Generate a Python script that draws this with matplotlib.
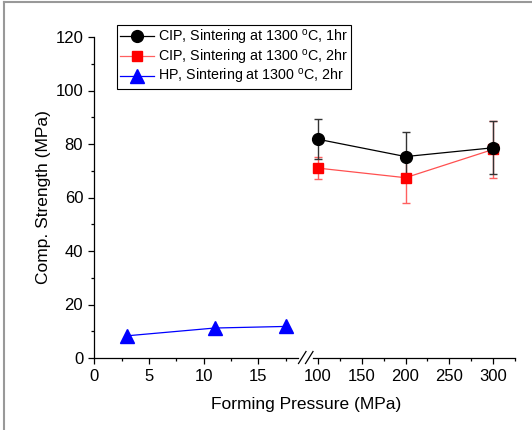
import matplotlib
matplotlib.use("Agg")
import matplotlib.pyplot as plt
from matplotlib.lines import Line2D
import numpy as np

plt.rcParams['font.family'] = ['Liberation Sans', 'DejaVu Sans']
plt.rcParams['mathtext.fontset'] = 'custom'
plt.rcParams['mathtext.rm'] = 'Liberation Sans'
plt.rcParams['mathtext.it'] = 'Liberation Sans:italic'

# Data
cip_x = [100, 200, 300]
cip1_y = [81.8, 75.3, 78.6]
cip1_err = [7.4, 9.2, 9.9]
cip2_y = [71.0, 67.4, 78.0]
cip2_err = [4.0, 9.3, 10.7]
hp_x = [3, 11, 17.5]
hp_y = [8.3, 11.2, 11.8]

labels = ["CIP, Sintering at 1300 $^{\\mathrm{o}}$C, 1hr",
          "CIP, Sintering at 1300 $^{\\mathrm{o}}$C, 2hr",
          "HP, Sintering at 1300 $^{\\mathrm{o}}$C, 2hr"]

W, H = 532, 430
fig = plt.figure(figsize=(W / 100, H / 100), dpi=100)

def fx(px):
    return px / W

def fy(py):
    return 1 - py / H

ax_bottom = fy(358)
ax_height = (358 - 37) / H
ax1 = fig.add_axes([fx(94.3), ax_bottom, fx(297.6) - fx(94.3), ax_height])
ax2 = fig.add_axes([fx(313.3), ax_bottom, fx(515.3) - fx(313.3), ax_height])

for ax in (ax1, ax2):
    ax.set_ylim(0, 120)
    ax.spines['top'].set_visible(False)
    ax.spines['right'].set_visible(False)
    ax.patch.set_alpha(0)
    ax.tick_params(which='major', direction='out', length=4, width=0.9, labelsize=12, pad=4)
    ax.tick_params(which='minor', direction='out', length=2.5, width=0.9)
    for s in ax.spines.values():
        s.set_linewidth(0.9)

ax2.spines['left'].set_visible(False)
ax2.tick_params(axis='y', which='both', left=False, labelleft=False)

ax1.set_xlim(0, 18.6)
ax1.set_xticks([0, 5, 10, 15])
ax1.set_xticks([2.5, 7.5, 12.5, 17.5], minor=True)
ax1.set_yticks([0, 20, 40, 60, 80, 100, 120])
ax1.set_yticks([10, 30, 50, 70, 90, 110], minor=True)

ax2.set_xlim(95, 325)
ax2.set_xticks([100, 150, 200, 250, 300])
ax2.set_xticks([125, 175, 225, 275, 325], minor=True)

# HP data
ax1.plot(hp_x, hp_y, color='blue', lw=0.9, marker='^', markersize=9.5, clip_on=False)

# CIP data
ax2.errorbar(cip_x, cip2_y, yerr=cip2_err, color='#ff5050', ecolor='#ff6060', lw=0.9,
             elinewidth=1.0, capsize=3, capthick=1.0, marker='s', markersize=7.5,
             markerfacecolor='red', markeredgecolor='red', clip_on=False)
ax2.errorbar(cip_x, cip1_y, yerr=cip1_err, color='black', ecolor='#333333', lw=0.9,
             elinewidth=1.0, capsize=3, capthick=1.0, marker='o', markersize=8.5,
             clip_on=False)

# Break marks
for x0 in (298.5, 305.5):
    fig.add_artist(Line2D([fx(x0), fx(x0 + 7.5)], [fy(363.5), fy(351.5)],
                          color='black', lw=0.9))

# Labels
ax1.set_ylabel("Comp. Strength (MPa)", fontsize=12.5, labelpad=3)
fig.text(fx(306), fy(405), "Forming Pressure (MPa)", fontsize=12.5, ha='center', va='center')

# Legend
handles = [
    Line2D([], [], color='black', lw=0.9, marker='o', markersize=8.5),
    Line2D([], [], color='#ff6060', lw=0.9, marker='s', markersize=7.5,
           markerfacecolor='red', markeredgecolor='red'),
    Line2D([], [], color='blue', lw=0.9, marker='^', markersize=9.5),
]
leg = fig.legend(handles, labels, loc='upper left', bbox_to_anchor=(fx(116.7), fy(25)),
                 bbox_transform=fig.transFigure, borderaxespad=0, fontsize=10.3,
                 fancybox=False, edgecolor='black', framealpha=1, handlelength=2.4,
                 handletextpad=0.3, labelspacing=0.05, borderpad=0.2)
leg.get_frame().set_linewidth(0.8)

# Outer partial gray frame
fig.add_artist(Line2D([fx(4), fx(532)], [fy(1.5), fy(1.5)], color='#999999', lw=1.5))
fig.add_artist(Line2D([fx(4), fx(4)], [fy(1.5), fy(430)], color='#999999', lw=1.5))

fig.savefig("out.png", dpi=100)
